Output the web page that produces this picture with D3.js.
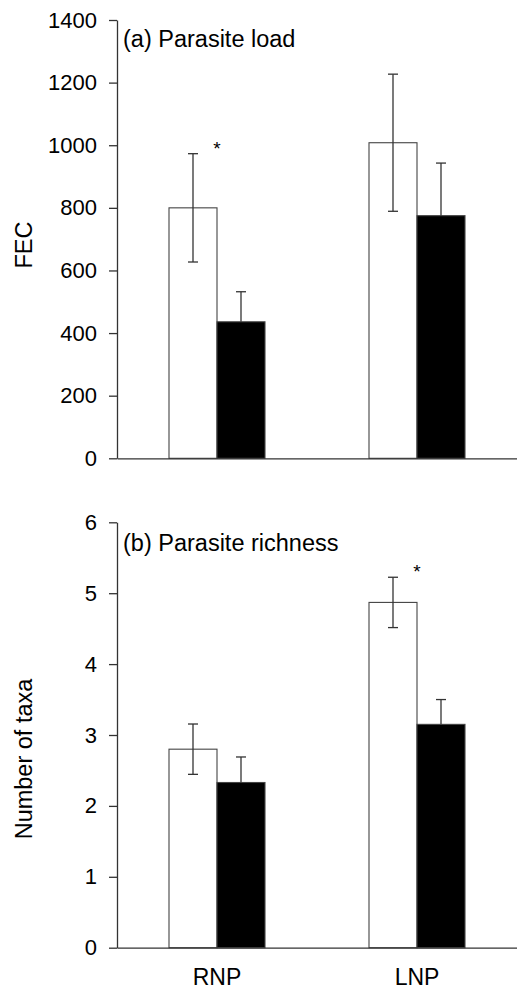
<!DOCTYPE html>
<html>
<head>
<meta charset="utf-8">
<script src="https://cdn.jsdelivr.net/npm/d3@7"></script>
<style>
  body { margin: 0; background: #fff; }
  svg { display: block; font-family: Arial, "Liberation Sans", sans-serif; }
  .axis path, .axis line { stroke: #333; stroke-width: 1.3; }
  .axis text { fill: #000; }
</style>
</head>
<body>
<div id="chart"></div>
<script>

// site categories
var sites = ["RNP", "LNP"];
var series = ["white", "black"];

// (a) parasite load, FEC mean and SE
var loadWhite = [800, 1008];
var loadWhiteSE = [173, 219];
var loadBlack = [436, 775];
var loadBlackSE = [96, 168];
var loadTicks = [0, 200, 400, 600, 800, 1000, 1200, 1400];
var loadSig = ["RNP"];

// (b) parasite richness, number of taxa mean and SE
var richWhite = [2.80, 4.87];
var richWhiteSE = [0.355, 0.355];
var richBlack = [2.33, 3.15];
var richBlackSE = [0.36, 0.35];
var richTicks = [0, 1, 2, 3, 4, 5, 6];
var richSig = ["LNP"];

var width = 517, height = 989;

var svg = d3.select("#chart").append("svg")
    .attr("width", width)
    .attr("height", height);

// shared x layout
var x0 = d3.scaleBand().domain(sites).range([117, 517]).padding(0);
var x1 = d3.scaleBand().domain(series).range([52, 148]).padding(0);

function makeRows(white, whiteSE, black, blackSE) {
    var rows = [];
    sites.forEach(function (s, i) {
        rows.push({ site: s, key: "white", value: white[i], se: whiteSE[i] });
        rows.push({ site: s, key: "black", value: black[i], se: blackSE[i] });
    });
    return rows;
}

/*
 *  draw one panel
 */
function drawPanel(opt) {
    var y = d3.scaleLinear().domain(opt.domain).range(opt.range);
    var g = svg.append("g");

    // bars
    g.selectAll(".bar").data(opt.rows).enter().append("rect")
        .attr("class", "bar")
        .attr("x", function (d) { return x0(d.site) + x1(d.key); })
        .attr("width", x1.bandwidth())
        .attr("y", function (d) { return y(d.value); })
        .attr("height", function (d) { return y(0) - y(d.value); })
        .attr("fill", function (d) { return d.key == "white" ? "#fff" : "#000"; })
        .attr("stroke", "#444")
        .attr("stroke-width", 1.1);

    // error bars (black bars only show the upper half)
    var err = g.selectAll(".err").data(opt.rows).enter().append("g")
        .attr("class", "err")
        .attr("transform", function (d) {
            return "translate(" + (x0(d.site) + x1(d.key) + x1.bandwidth() / 2) + ",0)";
        });

    err.append("line")
        .attr("y1", function (d) { return y(d.key == "white" ? d.value - d.se : d.value); })
        .attr("y2", function (d) { return y(d.value + d.se); })
        .attr("stroke", "#333").attr("stroke-width", 1.3);

    err.append("line")
        .attr("x1", -5).attr("x2", 5)
        .attr("y1", function (d) { return y(d.value + d.se); })
        .attr("y2", function (d) { return y(d.value + d.se); })
        .attr("stroke", "#333").attr("stroke-width", 1.3);

    err.filter(function (d) { return d.key == "white"; }).append("line")
        .attr("x1", -5).attr("x2", 5)
        .attr("y1", function (d) { return y(d.value - d.se); })
        .attr("y2", function (d) { return y(d.value - d.se); })
        .attr("stroke", "#333").attr("stroke-width", 1.3);

    // significance asterisks
    g.selectAll(".sig").data(opt.rows.filter(function (d) {
            return d.key == "white" && opt.sig.indexOf(d.site) >= 0;
        })).enter().append("text")
        .attr("class", "sig")
        .attr("x", function (d) { return x0(d.site) + x0.bandwidth() / 2; })
        .attr("y", function (d) { return y(d.value + d.se) + 1; })
        .attr("text-anchor", "middle")
        .style("font-size", "19px")
        .text("*");

    // y axis
    g.append("g")
        .attr("class", "axis")
        .attr("transform", "translate(117,0)")
        .call(d3.axisLeft(y).tickValues(opt.ticks).tickFormat(d3.format("d"))
            .tickSize(8).tickSizeOuter(0).tickPadding(12))
        .selectAll("text").style("font-size", "22px");

    // x axis
    var xa = g.append("g")
        .attr("class", "axis")
        .attr("transform", "translate(0," + y(0) + ")")
        .call(d3.axisBottom(x0).tickSize(0).tickSizeOuter(0).tickPadding(21));
    xa.selectAll("text").style("font-size", "23px");
    if (!opt.xLabels) xa.selectAll("text").remove();

    // y title
    g.append("text")
        .attr("transform", "translate(32," + opt.titleY + ") rotate(-90)")
        .attr("text-anchor", "middle")
        .style("font-size", "23.5px")
        .text(opt.yTitle);

    // panel label
    g.append("text")
        .attr("x", 123)
        .attr("y", opt.labelY)
        .style("font-size", "23.5px")
        .text(opt.label);
}

drawPanel({
    rows: makeRows(loadWhite, loadWhiteSE, loadBlack, loadBlackSE),
    domain: [0, 1400], range: [458.3, 20],
    ticks: loadTicks, sig: loadSig,
    xLabels: false,
    yTitle: "FEC", titleY: 245,
    label: "(a) Parasite load", labelY: 46.5
});

drawPanel({
    rows: makeRows(richWhite, richWhiteSE, richBlack, richBlackSE),
    domain: [0, 6], range: [947.7, 522.3],
    ticks: richTicks, sig: richSig,
    xLabels: true,
    yTitle: "Number of taxa", titleY: 759,
    label: "(b) Parasite richness", labelY: 551
});

</script>
</body>
</html>
